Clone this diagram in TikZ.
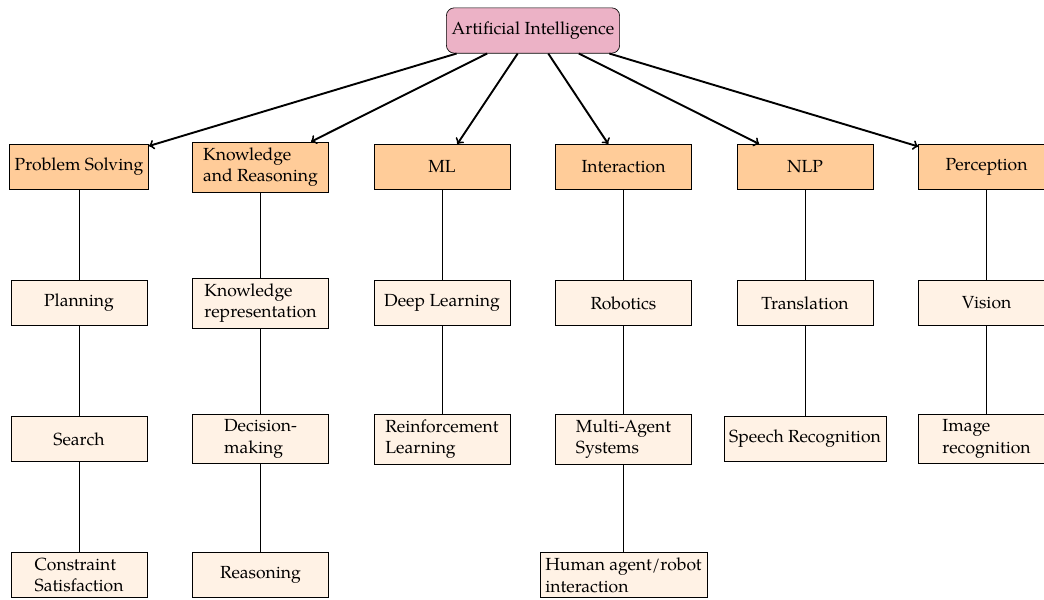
\documentclass[tikz,border=0pt]{standalone}
\usepackage{fontspec}
\setmainfont{texgyrepagella}[Extension=.otf, UprightFont=*-regular, BoldFont=*-bold, ItalicFont=*-italic, BoldItalicFont=*-bolditalic]
\begin{document}
\begin{tikzpicture}[x=0.6274pt, y=-0.6274pt,
  every node/.style={font=\fontsize{11}{13.6}\selectfont},
  rootbox/.style={draw, rounded corners=5pt, fill=purple!30, minimum height=1cm, inner sep=3.33pt},
  areabox/.style={draw, fill=orange!40, minimum width=3cm, minimum height=1cm, align=left},
  topicbox/.style={draw, fill=orange!10, minimum width=3cm, minimum height=1cm, align=left},
  branch/.style={->, very thick},
  link/.style={thin}]
\useasboundingbox (0,0) rectangle (1044,599);

% root
\node[rootbox] (ai) at (533,30.5) {Artificial Intelligence};

% main areas
\node[areabox] (ps)  at (79,167)    {Problem Solving};
\node[areabox] (kr)  at (260.5,167) {Knowledge\\and Reasoning};
\node[areabox] (ml)  at (442,167)   {ML};
\node[areabox] (int) at (623.5,167) {Interaction};
\node[areabox] (nlp) at (805,167)   {NLP};
\node[areabox] (per) at (986.5,167) {Perception};

% sub-topics
\node[topicbox] (plan) at (79,303)  {Planning};
\node[topicbox] (srch) at (79,439)  {Search};
\node[topicbox] (csp)  at (79,575)  {Constraint\\Satisfaction};

\node[topicbox] (krep) at (260.5,303) {Knowledge\\representation};
\node[topicbox] (dec)  at (260.5,439) {Decision-\\making};
\node[topicbox] (rsn)  at (260.5,575) {Reasoning};

\node[topicbox] (dl)   at (442,303) {Deep Learning};
\node[topicbox] (rl)   at (442,439) {Reinforcement\\Learning};

\node[topicbox] (rob)  at (623.5,303) {Robotics};
\node[topicbox] (mas)  at (623.5,439) {Multi-Agent\\Systems};
\node[topicbox] (hri)  at (623.5,575) {Human agent/robot\\interaction};

\node[topicbox] (tr)   at (805,303) {Translation};
\node[topicbox] (sr)   at (805,439) {Speech Recognition};

\node[topicbox] (vis)  at (986.5,303) {Vision};
\node[topicbox] (img)  at (986.5,439) {Image\\recognition};

% arrows from the root
\foreach \c in {ps,kr,ml,int,nlp,per}
  \draw[branch] (ai) -- (\c);

% vertical links
\draw[link] (ps) -- (plan);
\draw[link] (plan) -- (srch);
\draw[link] (srch) -- (csp);
\draw[link] (kr) -- (krep);
\draw[link] (krep) -- (dec);
\draw[link] (dec) -- (rsn);
\draw[link] (ml) -- (dl);
\draw[link] (dl) -- (rl);
\draw[link] (int) -- (rob);
\draw[link] (rob) -- (mas);
\draw[link] (mas) -- (hri);
\draw[link] (nlp) -- (tr);
\draw[link] (tr) -- (sr);
\draw[link] (per) -- (vis);
\draw[link] (vis) -- (img);
\end{tikzpicture}
\end{document}
